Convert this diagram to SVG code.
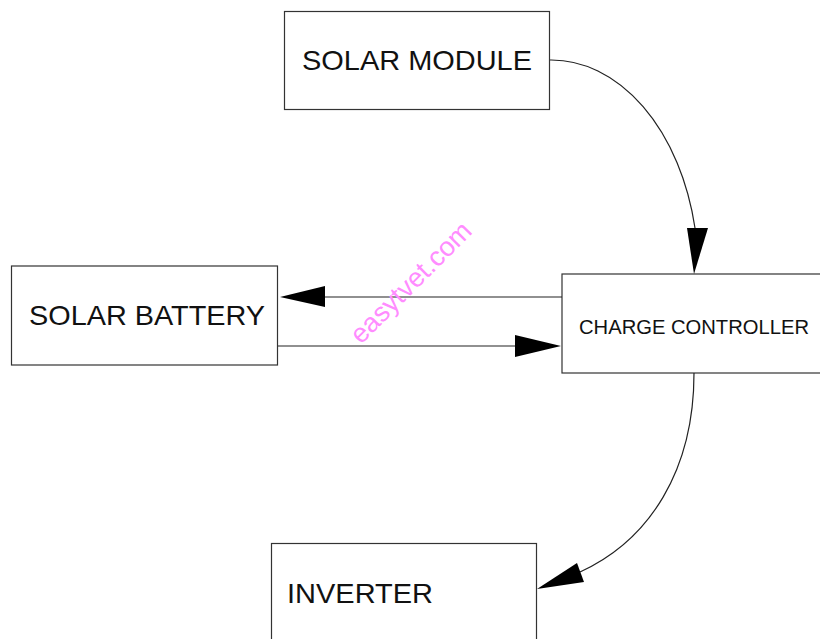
<svg xmlns="http://www.w3.org/2000/svg" width="820" height="639" viewBox="0 0 820 639">
<style>
.box{fill:#fff;stroke:#333;stroke-width:1.2}
.lbl{font-family:"Liberation Sans",Arial,sans-serif;fill:#111}
.ln{fill:none;stroke:#222;stroke-width:1.2}
.ah{fill:#000;stroke:none}
</style>
<rect width="820" height="639" fill="#fff"/>
<g id="solar-module">
<rect class="box" x="284.5" y="11.5" width="265" height="98"/>
<text class="lbl" x="302" y="70" font-size="28.5" textLength="230" lengthAdjust="spacingAndGlyphs">SOLAR MODULE</text>
</g>
<g id="solar-battery">
<rect class="box" x="11.5" y="266" width="266" height="99"/>
<text class="lbl" x="29" y="325" font-size="28.5" textLength="236" lengthAdjust="spacingAndGlyphs">SOLAR BATTERY</text>
</g>
<g id="charge-controller">
<rect class="box" x="562" y="274" width="262" height="99"/>
<text class="lbl" x="579" y="334" font-size="20.3" textLength="230" lengthAdjust="spacingAndGlyphs">CHARGE CONTROLLER</text>
</g>
<g id="inverter">
<rect class="box" x="271.5" y="543.5" width="265" height="100"/>
<text class="lbl" x="287" y="603" font-size="28.5" textLength="146" lengthAdjust="spacingAndGlyphs">INVERTER</text>
</g>
<g id="connectors">
<path class="ln" d="M550,60 A147,213 0 0 1 695,228"/>
<polygon class="ah" points="687,228 708,228 694,274"/>
<line class="ln" x1="325" y1="297" x2="562" y2="297"/>
<polygon class="ah" points="325,286 325,307 280,297"/>
<line class="ln" x1="278" y1="346" x2="515" y2="346"/>
<polygon class="ah" points="515,335 515,357 561,346"/>
<path class="ln" d="M694,373 C694,470 650,540 580,572"/>
<polygon class="ah" points="577,563 584,582 537,589"/>
</g>
<text x="0" y="0" transform="translate(361,345) rotate(-45)" font-family="Liberation Sans,Arial,sans-serif" font-size="27" fill="#ff8cff">easytvet.com</text>
</svg>
